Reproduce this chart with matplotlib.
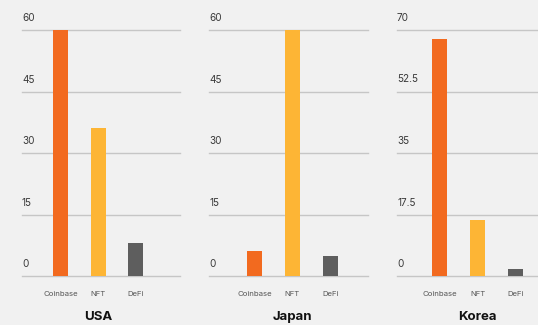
import matplotlib
matplotlib.use("Agg")
import matplotlib.pyplot as plt
import matplotlib.transforms as mtransforms

categories = ["Coinbase", "NFT", "DeFi"]
countries = ["USA", "Japan", "Korea"]
usa_values = [60, 36, 8]
japan_values = [6, 60, 5]
korea_values = [67.5, 16, 2]
usa_ticks = [0, 15, 30, 45, 60]
japan_ticks = [0, 15, 30, 45, 60]
korea_ticks = [0, 17.5, 35, 52.5, 70]
korea_tick_labels = ["0", "17.5", "35", "52.5", "70"]

colors = ["#f26a1f", "#fdb535", "#5e5e5e"]
bg = "#f1f1f1"

plt.rcParams["font.family"] = ["Inter", "DejaVu Sans"]

W, H = 538, 325
fig = plt.figure(figsize=(W / 100, H / 100), dpi=100, facecolor=bg)

# pixel layout per panel: (left px, right px, xlim)
panels = [
    (22, 180, (-1.02, 3.17), usa_values, usa_ticks, [str(t) for t in usa_ticks]),
    (209, 368, (-1.2, 2.99), japan_values, japan_ticks, [str(t) for t in japan_ticks]),
    (397, 538, (-1.12, 2.59), korea_values, korea_ticks, korea_tick_labels),
]
top_px, bottom_px = 30, 276

for (lpx, rpx, xlim, vals, ticks, tlabels), country in zip(panels, countries):
    ax = fig.add_axes([lpx / W, (H - bottom_px) / H, (rpx - lpx) / W, (bottom_px - top_px) / H])
    ax.set_facecolor(bg)
    ax.bar(range(len(categories)), vals, width=0.4, color=colors, zorder=3)
    ax.set_xlim(*xlim)
    ax.set_ylim(0, ticks[-1])
    for t in ticks:
        ax.axhline(t, color="#c6c6c6", lw=1.0, zorder=2, clip_on=False)
    ax.tick_params(axis="y", left=False, labelleft=False)
    for s in ["top", "right", "left", "bottom"]:
        ax.spines[s].set_visible(False)
    ax.set_xticks(range(len(categories)))
    ax.set_xticklabels(categories, fontsize=5.6, color="#555555")
    ax.tick_params(axis="x", length=0, pad=11)
    trans = mtransforms.blended_transform_factory(ax.transAxes, ax.transData)
    off = mtransforms.ScaledTranslation(0, 7 / 100, fig.dpi_scale_trans)
    for t, lab in zip(ticks, tlabels):
        ax.text(0.0, t, lab, transform=trans + off, fontsize=7.2, color="#3a3a3a",
                ha="left", va="bottom")
    ax.text(1, -0.165, country, transform=mtransforms.blended_transform_factory(ax.transData, ax.transAxes),
            ha="center", va="center", fontsize=9.5, fontweight="bold", color="#111111")

fig.savefig("out.png", dpi=100, facecolor=bg)
